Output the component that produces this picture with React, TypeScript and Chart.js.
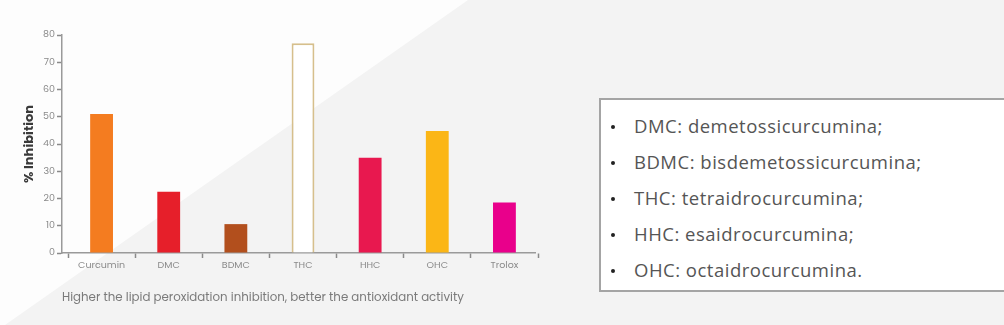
import React, { useEffect, useRef } from "react";
import { Chart, registerables, CategoryScale } from "chart.js";

Chart.register(...registerables);

class GapCategoryScale extends (CategoryScale as any) {
  configure() {
    const l = this.left;
    const r = this.right;
    this.left = l + 6;
    this.right = r + 3;
    super.configure();
    this.left = l;
    this.right = r;
  }
}
(GapCategoryScale as any).id = "gapCategory";
(GapCategoryScale as any).defaults = (CategoryScale as any).defaults;
Chart.register(GapCategoryScale as any);

const categories = ["Curcumin", "DMC", "BDMC", "THC", "HHC", "OHC", "Trolox"];
const inhibition = [51, 22.5, 10.6, 77, 35, 44.8, 18.5];
const barColors = ["#f47c20", "#e61f2a", "#b24f1d", "#ffffff", "#e8184f", "#fbb616", "#e9008b"];
const borderColors = ["#f47c20", "#e61f2a", "#b24f1d", "#d6bf8c", "#e8184f", "#fbb616", "#e9008b"];
const borderWidths = [0, 0, 0, 2, 0, 0, 0];
const yTicks = [0, 10, 20, 30, 40, 50, 60, 70, 80];
const legendLines = [
  "DMC: demetossicurcumina;",
  "BDMC: bisdemetossicurcumina;",
  "THC: tetraidrocurcumina;",
  "HHC: esaidrocurcumina;",
  "OHC: octaidrocurcumina.",
];
const caption = "Higher the lipid peroxidation inhibition, better the antioxidant activity";

const FONT = "Poppins, 'Open Sans', 'Noto Sans', sans-serif";

export default function App() {
  const ref = useRef<HTMLCanvasElement | null>(null);

  useEffect(() => {
    if (!ref.current) return;
    const chart = new Chart(ref.current, {
      type: "bar",
      data: {
        labels: categories,
        datasets: [
          {
            data: inhibition,
            backgroundColor: barColors,
            borderColor: borderColors,
            borderWidth: borderWidths,
            barPercentage: 0.34,
            categoryPercentage: 1,
          },
        ],
      },
      options: {
        animation: false,
        responsive: false,
        maintainAspectRatio: false,
        layout: { padding: { left: 18, right: 25, top: 35, bottom: 0 } },
        plugins: { legend: { display: false }, tooltip: { enabled: false } },
        scales: {
          x: {
            type: "gapCategory" as any,
            border: { display: true, color: "#9a9a9a", width: 1.5 },
            grid: {
              offset: true,
              drawOnChartArea: false,
              drawTicks: true,
              tickLength: 5,
              color: "#8a8a8a",
              tickWidth: 1.5,
            },
            ticks: {
              color: "#8a8a8a",
              font: { family: FONT, size: 9.5 },
              padding: 2,
            },
            afterFit: (s: any) => {
              s.height = 37;
            },
          },
          y: {
            min: 0,
            max: 80,
            afterBuildTicks: (s: any) => {
              s.ticks = yTicks.map((v) => ({ value: v }));
            },
            border: { display: true, color: "#9a9a9a", width: 1.5 },
            grid: {
              drawOnChartArea: false,
              drawTicks: true,
              tickLength: 5,
              color: "#8a8a8a",
              tickWidth: 1.5,
            },
            ticks: {
              color: "#8a8a8a",
              font: { family: FONT, size: 9.5 },
              padding: 2,
            },
            title: {
              display: true,
              text: "% Inhibition",
              color: "#3a3a3a",
              font: { family: FONT, size: 13, weight: "bold" },
              padding: { top: 4, bottom: 0 },
            },
            afterFit: (s: any) => {
              s.width = 44;
            },
          },
        },
      },
    });
    return () => chart.destroy();
  }, []);

  return (
    <div
      style={{
        position: "fixed",
        left: 0,
        top: 0,
        width: 1004,
        height: 325,
        overflow: "hidden",
        background: "#f3f3f3",
        fontFamily: FONT,
      }}
    >
      <div
        style={{
          position: "absolute",
          left: 0,
          top: 0,
          width: 1004,
          height: 325,
          background: "#fdfdfd",
          clipPath: "polygon(0 0, 468px 0, 5px 325px, 0 325px)",
        }}
      />
      <canvas
        ref={ref}
        width={560}
        height={290}
        style={{ position: "absolute", left: 0, top: 0, width: 560, height: 290 }}
      />
      <div
        style={{
          position: "absolute",
          left: 62,
          top: 289,
          fontSize: 11.8,
          color: "#7a7a7a",
          whiteSpace: "nowrap",
        }}
      >
        {caption}
      </div>
      <div
        style={{
          position: "absolute",
          left: 599,
          top: 98,
          width: 430,
          height: 190,
          border: "2px solid #a4a4a4",
          background: "#ffffff",
          boxSizing: "content-box",
        }}
      >
        {legendLines.map((t, i) => (
          <div
            key={i}
            style={{
              position: "absolute",
              left: 0,
              top: 8 + i * 36,
              height: 36,
              lineHeight: "36px",
              whiteSpace: "nowrap",
              fontFamily: "'Open Sans', sans-serif",
              fontSize: 18.5,
              letterSpacing: 0.5,
              color: "#555555",
            }}
          >
            <span
              style={{
                position: "absolute",
                left: 10,
                top: 17,
                width: 4,
                height: 4,
                borderRadius: 2,
                background: "#222",
              }}
            />
            <span style={{ position: "absolute", left: 33 }}>{t}</span>
          </div>
        ))}
      </div>
    </div>
  );
}
